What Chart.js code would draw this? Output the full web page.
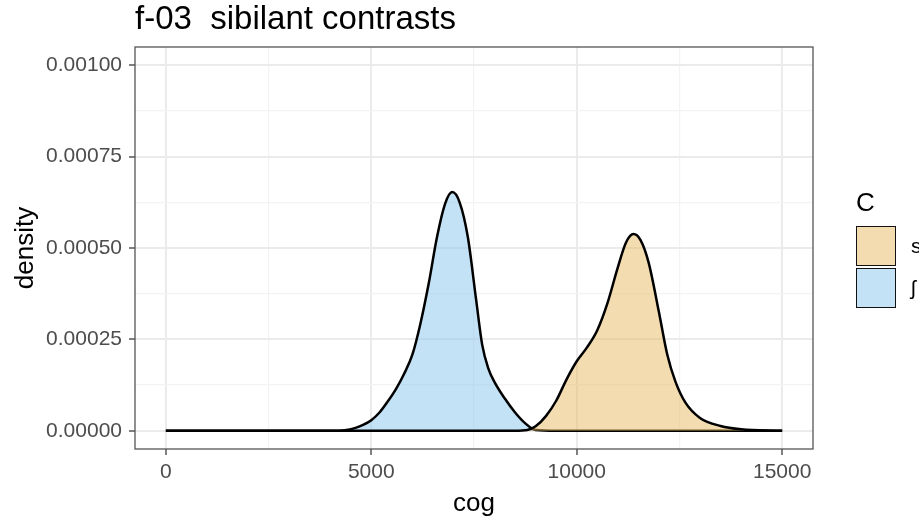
<!DOCTYPE html>
<html>
<head>
<meta charset="utf-8">
<title>f-03 sibilant contrasts</title>
<script src="https://cdn.jsdelivr.net/npm/chart.js@4.4.1/dist/chart.umd.min.js"></script>
<style>
    body { margin: 0; background: #fff; font-family: "Liberation Sans", Arial, sans-serif; }
    #wrap { position: relative; width: 919px; height: 521px; overflow: hidden; }
    #titulo { position: absolute; left: 135px; top: 1px; font-size: 33px; line-height: 1; color: #000; white-space: pre; }
    #leyenda { position: absolute; left: 856px; top: 189px; }
    #leyenda .tit { font-size: 26px; line-height: 1; margin-bottom: 10px; }
    #leyenda .item { display: flex; align-items: center; height: 42px; }
    #leyenda .caja { width: 38px; height: 38px; border: 1.5px solid #111; box-sizing: content-box; }
    #leyenda .lbl { font-size: 21px; margin-left: 15px; }
</style>
</head>
<body>
<div id="wrap">
    <canvas id="grafica" width="919" height="521"></canvas>
    <div id="titulo">f-03  sibilant contrasts</div>
    <div id="leyenda"></div>
</div>
<script>
// densidad estimada del cog para cada sibilante
const sX = [0, 5000, 8500, 8800, 9000, 9250, 9500, 9750, 10000, 10250, 10500, 10750, 11000, 11200, 11380, 11550, 11750, 12000, 12200, 12400, 12650, 13000, 13500, 14000, 15000];
const sY = [0, 0, 0, 0.000002, 0.000012, 0.00004, 0.000082, 0.00014, 0.00019, 0.000228, 0.000275, 0.00035, 0.000447, 0.000515, 0.000538, 0.000522, 0.00046, 0.000325, 0.00021, 0.000135, 0.000076, 0.000035, 0.000013, 0.000004, 0];

const shX = [0, 2000, 4000, 4200, 4400, 4600, 4800, 5000, 5200, 5400, 5600, 5800, 6000, 6200, 6400, 6600, 6800, 6970, 7150, 7350, 7550, 7700, 7850, 8000, 8250, 8500, 8750, 9000, 9500, 12000, 15000];
const shY = [0, 0, 0, 0, 0.000002, 0.000007, 0.000016, 0.000029, 0.00005, 0.00008, 0.000114, 0.000156, 0.000208, 0.000295, 0.000404, 0.00053, 0.000622, 0.000653, 0.000625, 0.00053, 0.00036, 0.000235, 0.00017, 0.000133, 0.000088, 0.00005, 0.00002, 0.000002, 0, 0, 0];

const categorias = ['s', 'ʃ'];
const colores = ['rgba(231,185,97,0.5)', 'rgba(137,197,237,0.5)'];

const xTicks = [0, 2500, 5000, 7500, 10000, 12500, 15000];
const yTicks = [0, 0.000125, 0.00025, 0.000375, 0.0005, 0.000625, 0.00075, 0.000875, 0.001];

const puntos = (xs, ys) => xs.map((x, i) => ({ x: x, y: ys[i] }));

const esMayor = ctx => ctx.index % 2 === 0;

const marcoPanel = {
    id: 'marcoPanel',
    afterDatasetsDraw(chart) {
        const a = chart.chartArea;
        const c = chart.ctx;
        c.save();
        c.strokeStyle = '#555';
        c.lineWidth = 1.3;
        c.strokeRect(a.left, a.top, a.right - a.left, a.bottom - a.top);
        c.restore();
    }
};

const fuenteTick = { family: '"Liberation Sans", Arial, sans-serif', size: 21 };
const fuenteEje = { family: '"Liberation Sans", Arial, sans-serif', size: 26 };

new Chart(document.getElementById('grafica'), {
    type: 'line',
    data: {
        datasets: [
            { label: categorias[0], data: puntos(sX, sY), backgroundColor: colores[0] },
            { label: categorias[1], data: puntos(shX, shY), backgroundColor: colores[1] }
        ]
    },
    options: {
        responsive: false,
        animation: false,
        layout: { padding: { top: 47, right: 106, bottom: 0, left: 0 } },
        elements: {
            point: { radius: 0 },
            line: { borderColor: '#000', borderWidth: 2.5, fill: 'origin', cubicInterpolationMode: 'monotone' }
        },
        plugins: { legend: { display: false }, tooltip: { enabled: false } },
        scales: {
            x: {
                type: 'linear',
                min: -750,
                max: 15750,
                afterBuildTicks: s => { s.ticks = xTicks.map(v => ({ value: v })); },
                afterFit: s => { s.height = 72; },
                ticks: {
                    autoSkip: false, maxRotation: 0, padding: 5, color: '#4d4d4d', font: fuenteTick,
                    callback: v => (v % 5000 === 0 ? String(v) : '')
                },
                grid: {
                    color: ctx => (esMayor(ctx) ? '#ebebeb' : '#f3f3f3'),
                    lineWidth: ctx => (esMayor(ctx) ? 2 : 1.2),
                    tickColor: ctx => (esMayor(ctx) ? '#555' : 'rgba(0,0,0,0)'),
                    tickLength: 6,
                    tickWidth: 1.5
                },
                border: { display: false },
                title: { display: true, text: 'cog', color: '#000', font: fuenteEje, padding: { top: 0, bottom: 2 } }
            },
            y: {
                min: -0.00005,
                max: 0.00105,
                afterBuildTicks: s => { s.ticks = yTicks.map(v => ({ value: v })); },
                afterFit: s => { s.width = 135; },
                ticks: {
                    autoSkip: false, padding: 7, color: '#4d4d4d', font: fuenteTick,
                    callback: (v, i) => (i % 2 === 0 ? v.toFixed(5) : '')
                },
                grid: {
                    color: ctx => (esMayor(ctx) ? '#ebebeb' : '#f3f3f3'),
                    lineWidth: ctx => (esMayor(ctx) ? 2 : 1.2),
                    tickColor: ctx => (esMayor(ctx) ? '#555' : 'rgba(0,0,0,0)'),
                    tickLength: 6,
                    tickWidth: 1.5
                },
                border: { display: false },
                title: { display: true, text: 'density', color: '#000', font: fuenteEje, padding: { top: 10, bottom: 0 } }
            }
        }
    },
    plugins: [marcoPanel]
});

// leyenda al estilo ggplot, armada con las mismas categorías y colores
const ley = document.getElementById('leyenda');
ley.innerHTML = '<div class="tit">C</div>' + categorias.map((c, i) => `
    <div class="item"><div class="caja" style="background:${colores[i]}"></div><span class="lbl">${c}</span></div>
`).join('');
</script>
</body>
</html>
